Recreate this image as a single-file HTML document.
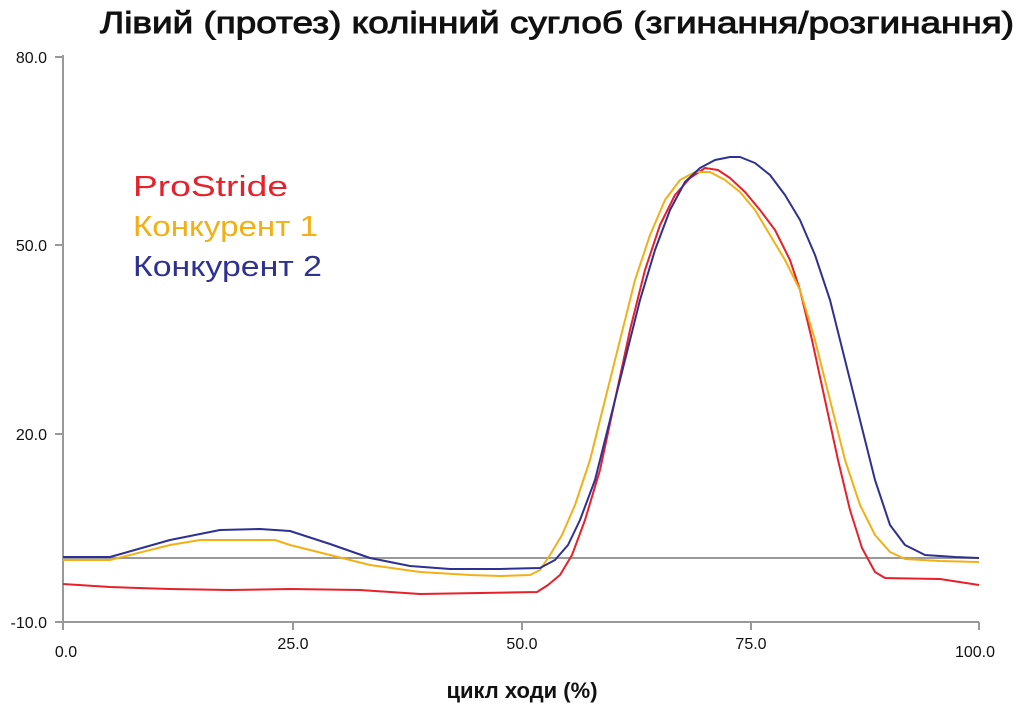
<!DOCTYPE html>
<html><head><meta charset="utf-8"><style>
html,body{margin:0;padding:0;background:#fff;}
svg{display:block;font-family:"Liberation Sans","DejaVu Sans",sans-serif;}
</style></head><body>
<svg width="1024" height="706" viewBox="0 0 1024 706">
<text x="1014" y="33" text-anchor="end" font-size="31" font-weight="normal" fill="#111" stroke="#111" stroke-width="0.9" textLength="914" lengthAdjust="spacingAndGlyphs">Лівий (протез) колінний суглоб (згинання/розгинання)</text>
<g stroke="#999" stroke-width="2" fill="none">
<line x1="63" y1="55" x2="63" y2="630"/>
<line x1="55" y1="622" x2="979" y2="622"/>
<line x1="55" y1="57" x2="63" y2="57"/>
<line x1="55" y1="245" x2="63" y2="245"/>
<line x1="55" y1="434" x2="63" y2="434"/>
<line x1="293" y1="622" x2="293" y2="630"/>
<line x1="522" y1="622" x2="522" y2="630"/>
<line x1="751" y1="622" x2="751" y2="630"/>
<line x1="979" y1="622" x2="979" y2="630"/>
<line x1="63" y1="558" x2="979" y2="558"/>
</g>
<g font-size="16" fill="#111" text-anchor="end">
<text x="47" y="63">80.0</text>
<text x="47" y="251">50.0</text>
<text x="47" y="440">20.0</text>
<text x="47" y="628">-10.0</text>
</g>
<g font-size="16" fill="#111" text-anchor="middle">
<text x="66" y="657">0.0</text>
<text x="293" y="649">25.0</text>
<text x="522" y="649">50.0</text>
<text x="751" y="649">75.0</text>
<text x="975" y="657">100.0</text>
</g>
<text x="522" y="698" text-anchor="middle" font-size="22" font-weight="bold" fill="#111">цикл ходи (%)</text>
<g font-size="29">
<text x="133" y="196" fill="#e8202a" textLength="155" lengthAdjust="spacingAndGlyphs">ProStride</text>
<text x="133" y="236" fill="#f3b015" textLength="185" lengthAdjust="spacingAndGlyphs">Конкурент 1</text>
<text x="133" y="276" fill="#2e3192" textLength="189" lengthAdjust="spacingAndGlyphs">Конкурент 2</text>
</g>
<g fill="none" stroke-width="2" stroke-linejoin="round">
<polyline stroke="#e8202a" points="63,584 110,587 170,589 230,590 290,589 360,590 420,594 480,593 537,592 548,585 560,575 572,555 585,520 600,470 615,400 630,330 645,270 660,225 675,195 690,178 705,168 718,170 730,178 745,192 760,210 775,230 790,260 800,290 812,340 825,400 838,460 850,510 862,548 875,572 885,578 940,579 979,585"/>
<polyline stroke="#f3b015" points="63,560 110,560 170,545 200,540 230,540 275,540 290,545 330,555 370,565 420,572 470,575 500,576 530,575 540,570 550,555 562,535 575,505 590,460 605,400 620,340 635,280 650,235 665,200 680,180 695,172 710,172 725,180 740,192 755,210 770,235 785,260 800,290 815,340 830,400 845,460 860,505 875,535 890,552 905,559 940,561 979,562"/>
<polyline stroke="#2e3192" points="63,557 110,557 170,540 220,530 260,529 290,531 330,544 370,558 410,566 450,569 500,569 540,568 555,560 568,545 580,520 595,480 610,420 625,360 640,300 655,250 670,210 685,182 700,168 715,160 730,157 740,157 755,163 770,175 785,195 800,220 815,255 830,300 845,360 860,420 875,480 890,525 905,545 925,555 955,557 979,558"/>
</g>
</svg>
</body></html>
